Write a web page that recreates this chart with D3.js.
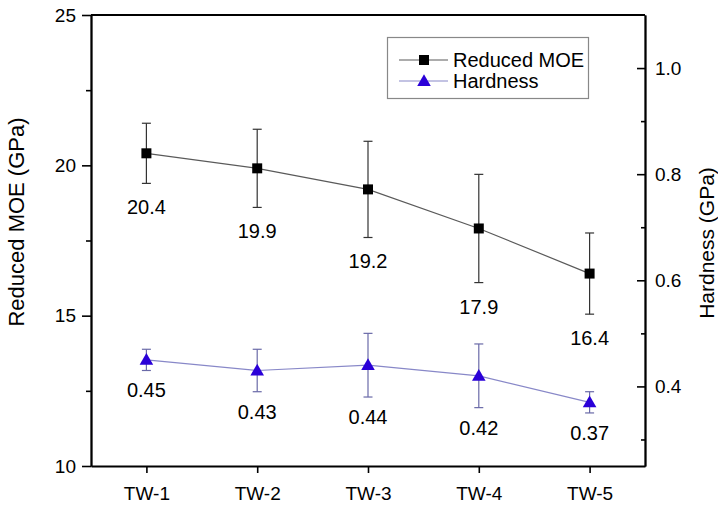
<!DOCTYPE html>
<html>
<head>
<meta charset="utf-8">
<script src="https://cdn.jsdelivr.net/npm/d3@7"></script>
<style>
  html, body { margin: 0; padding: 0; background: #fff; }
  svg { display: block; font-family: Arial, "Liberation Sans", sans-serif; }
</style>
</head>
<body>
<svg id="chart" width="718" height="511"></svg>
<script>
const categories = ["TW-1", "TW-2", "TW-3", "TW-4", "TW-5"];
const moe = [20.4, 19.9, 19.2, 17.9, 16.4];
const moeErr = [1.0, 1.3, 1.6, 1.8, 1.35];
const hardness = [0.45, 0.43, 0.44, 0.42, 0.37];
const hardnessErr = [0.02, 0.04, 0.06, 0.06, 0.02];
const leftTicks = [10, 15, 20, 25];
const leftMinor = [12.5, 17.5, 22.5];
const rightTicks = [0.4, 0.6, 0.8, 1.0];
const rightMinor = [0.3, 0.5, 0.7, 0.9];

const svg = d3.select("#chart");
const L = 91, R = 645, T = 15, B = 466;

const x = d3.scaleLinear().domain([0.5, 5.5]).range([L, R]);
const yL = d3.scaleLinear().domain([10, 25]).range([B, T]);
const yR = d3.scaleLinear().domain([0.25, 1.1]).range([B, T]);

// frame top
svg.append("line").attr("x1", L).attr("x2", R).attr("y1", T).attr("y2", T)
  .attr("stroke", "#000").attr("stroke-width", 1.8);

function styleAxis(g, fs) {
  g.select(".domain").attr("stroke", "#000").attr("stroke-width", 1.8);
  g.selectAll(".tick line").attr("stroke", "#000").attr("stroke-width", 1.6);
  g.selectAll("text").attr("font-size", fs).attr("fill", "#000")
    .attr("font-family", "Arial, 'Liberation Sans', sans-serif");
}

// left axis
const gL = svg.append("g").attr("transform", `translate(${L},0)`)
  .call(d3.axisLeft(yL).tickValues(leftTicks).tickSizeInner(9).tickSizeOuter(0).tickPadding(6).tickFormat(d3.format("d")));
styleAxis(gL, 19);
const gLm = svg.append("g").attr("transform", `translate(${L},0)`)
  .call(d3.axisLeft(yL).tickValues(leftMinor).tickSizeInner(5).tickSizeOuter(0).tickFormat(""));
styleAxis(gLm, 19);

// right axis (ticks inward)
const gR = svg.append("g").attr("transform", `translate(${R},0)`)
  .call(d3.axisRight(yR).tickValues(rightTicks).tickSizeInner(-8).tickSizeOuter(0).tickPadding(10).tickFormat(d3.format(".1f")));
styleAxis(gR, 19);
const gRm = svg.append("g").attr("transform", `translate(${R},0)`)
  .call(d3.axisRight(yR).tickValues(rightMinor).tickSizeInner(-4).tickSizeOuter(0).tickFormat(""));
styleAxis(gRm, 19);

// bottom axis
const gB = svg.append("g").attr("transform", `translate(0,${B})`)
  .call(d3.axisBottom(x).tickValues([1, 2, 3, 4, 5]).tickSizeInner(7).tickSizeOuter(0).tickPadding(14)
    .tickFormat(d => categories[d - 1]));
styleAxis(gB, 19);

// axis titles
svg.append("text").attr("transform", `translate(24,222) rotate(-90)`)
  .attr("text-anchor", "middle").attr("font-size", 22).attr("fill", "#000")
  .text("Reduced MOE (GPa)");
svg.append("text").attr("transform", `translate(714,243) rotate(-90)`)
  .attr("text-anchor", "middle").attr("font-size", 21).attr("fill", "#000")
  .text("Hardness (GPa)");

const series = [
  { name: "Reduced MOE", vals: moe, errs: moeErr, y: yL, line: "#5a5a5a", err: "#333", marker: "square", fill: "#000", fmt: d3.format(".1f"), off: 31 },
  { name: "Hardness", vals: hardness, errs: hardnessErr, y: yR, line: "#8888c8", err: "#6a6aa8", marker: "triangle", fill: "#2a00d8", fmt: d3.format(".2f"), off: 27 }
];

const sqSym = d3.symbol().type(d3.symbolSquare).size(100);
const triSym = d3.symbol().type(d3.symbolTriangle).size(80);

series.forEach(s => {
  const pts = s.vals.map((v, i) => ({ i: i + 1, v, e: s.errs[i] }));
  const g = svg.append("g");
  // line
  g.append("path").datum(pts)
    .attr("d", d3.line().x(d => x(d.i)).y(d => s.y(d.v)))
    .attr("fill", "none").attr("stroke", s.line).attr("stroke-width", 1.2);
  // error bars
  const eb = g.selectAll(".eb").data(pts).enter().append("g").attr("stroke", s.err).attr("stroke-width", 1.2);
  eb.append("line").attr("x1", d => x(d.i)).attr("x2", d => x(d.i))
    .attr("y1", d => s.y(d.v + d.e)).attr("y2", d => s.y(d.v - d.e));
  eb.append("line").attr("x1", d => x(d.i) - 4.5).attr("x2", d => x(d.i) + 4.5)
    .attr("y1", d => s.y(d.v + d.e)).attr("y2", d => s.y(d.v + d.e));
  eb.append("line").attr("x1", d => x(d.i) - 4.5).attr("x2", d => x(d.i) + 4.5)
    .attr("y1", d => s.y(d.v - d.e)).attr("y2", d => s.y(d.v - d.e));
  // markers
  g.selectAll(".mk").data(pts).enter().append("path")
    .attr("d", s.marker === "square" ? sqSym : triSym)
    .attr("transform", d => `translate(${x(d.i)},${s.y(d.v) + (s.marker === "triangle" ? 1 : 0)})`)
    .attr("fill", s.fill);
  // value labels
  g.selectAll(".lb").data(pts).enter().append("text")
    .attr("x", d => x(d.i)).attr("y", d => s.y(d.v - d.e) + s.off)
    .attr("text-anchor", "middle").attr("font-size", 20).attr("fill", "#000")
    .text(d => s.fmt(d.v));
});

// legend
const lg = svg.append("g");
lg.append("rect").attr("x", 387.5).attr("y", 37.5).attr("width", 201).attr("height", 61)
  .attr("fill", "#fff").attr("stroke", "#888").attr("stroke-width", 1.2);
series.forEach((s, k) => {
  const cy = 60 + k * 21;
  lg.append("line").attr("x1", 399).attr("x2", 448).attr("y1", cy).attr("y2", cy)
    .attr("stroke", s.line).attr("stroke-width", 1.2);
  lg.append("path").attr("d", s.marker === "square" ? sqSym : triSym)
    .attr("transform", `translate(424,${cy + (s.marker === "triangle" ? 1 : 0)})`).attr("fill", s.fill);
  lg.append("text").attr("x", 453).attr("y", cy).attr("dy", "0.35em")
    .attr("font-size", 20).attr("fill", "#000").text(s.name);
});
</script>
</body>
</html>
